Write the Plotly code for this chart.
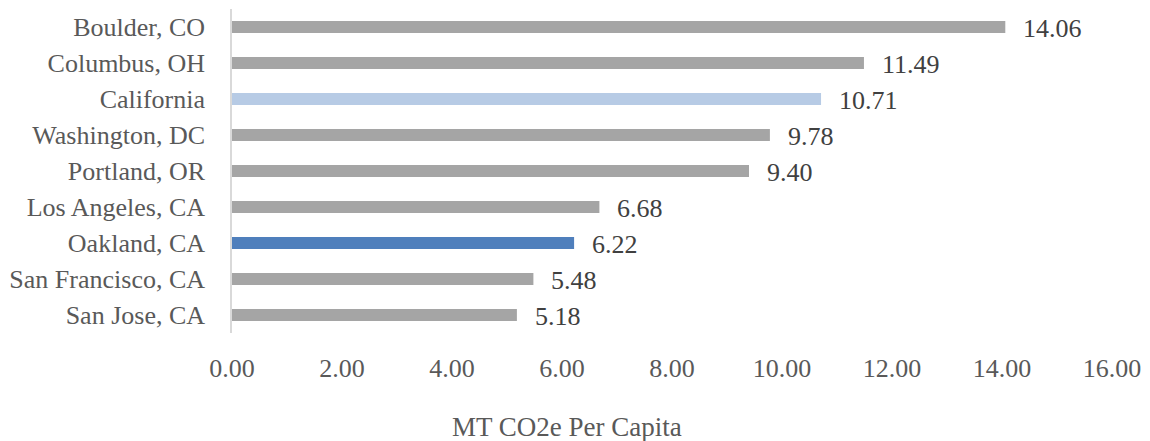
import plotly.graph_objects as go

categories = ["Boulder, CO", "Columbus, OH", "California", "Washington, DC",
              "Portland, OR", "Los Angeles, CA", "Oakland, CA",
              "San Francisco, CA", "San Jose, CA"]
values = [14.06, 11.49, 10.71, 9.78, 9.40, 6.68, 6.22, 5.48, 5.18]
value_labels = ["14.06", "11.49", "10.71", "9.78", "9.40", "6.68", "6.22", "5.48", "5.18"]
bar_colors = ["#a5a5a5", "#a5a5a5", "#b7cbe5", "#a5a5a5", "#a5a5a5",
              "#a5a5a5", "#4f7fbc", "#a5a5a5", "#a5a5a5"]
x_ticks = [0, 2, 4, 6, 8, 10, 12, 14, 16]
x_tick_labels = ["0.00", "2.00", "4.00", "6.00", "8.00", "10.00", "12.00", "14.00", "16.00"]
axis_title = "MT CO2e Per Capita"

FONT = "Liberation Serif"
FS = 26

fig = go.Figure()
fig.add_trace(go.Bar(
    y=categories, x=values, orientation="h",
    marker=dict(color=bar_colors, line=dict(width=0)),
    width=0.34, hoverinfo="skip",
))

for c, v, t in zip(categories, values, value_labels):
    fig.add_annotation(x=v, y=c, text=t, showarrow=False, xanchor="left",
                       yanchor="middle", xshift=16, yshift=-1,
                       font=dict(family=FONT, size=FS, color="#404040"))

fig.add_annotation(x=0.381, y=-0.29, xref="paper", yref="paper",
                   text=axis_title, showarrow=False, xanchor="center",
                   yanchor="middle",
                   font=dict(family=FONT, size=FS + 1, color="#595959"))

fig.update_layout(
    width=1150, height=441,
    margin=dict(l=228, r=37, t=9, b=108),
    paper_bgcolor="white", plot_bgcolor="white",
    showlegend=False,
    font=dict(family=FONT, size=FS, color="#595959"),
)
fig.update_xaxes(
    range=[0, 16], tickvals=x_ticks, ticktext=x_tick_labels,
    showgrid=False, zeroline=False, showline=False,
    ticks="outside", ticklen=12, tickcolor="rgba(0,0,0,0)",
    tickfont=dict(family=FONT, size=FS, color="#595959"),
)
fig.update_yaxes(
    categoryorder="array", categoryarray=categories, autorange="reversed",
    showgrid=False, zeroline=False,
    showline=True, linecolor="#d9d9d9", linewidth=1.5,
    ticks="outside", ticklen=20, tickcolor="rgba(0,0,0,0)",
    tickfont=dict(family=FONT, size=FS, color="#595959"),
)

fig.write_html("out.html")
